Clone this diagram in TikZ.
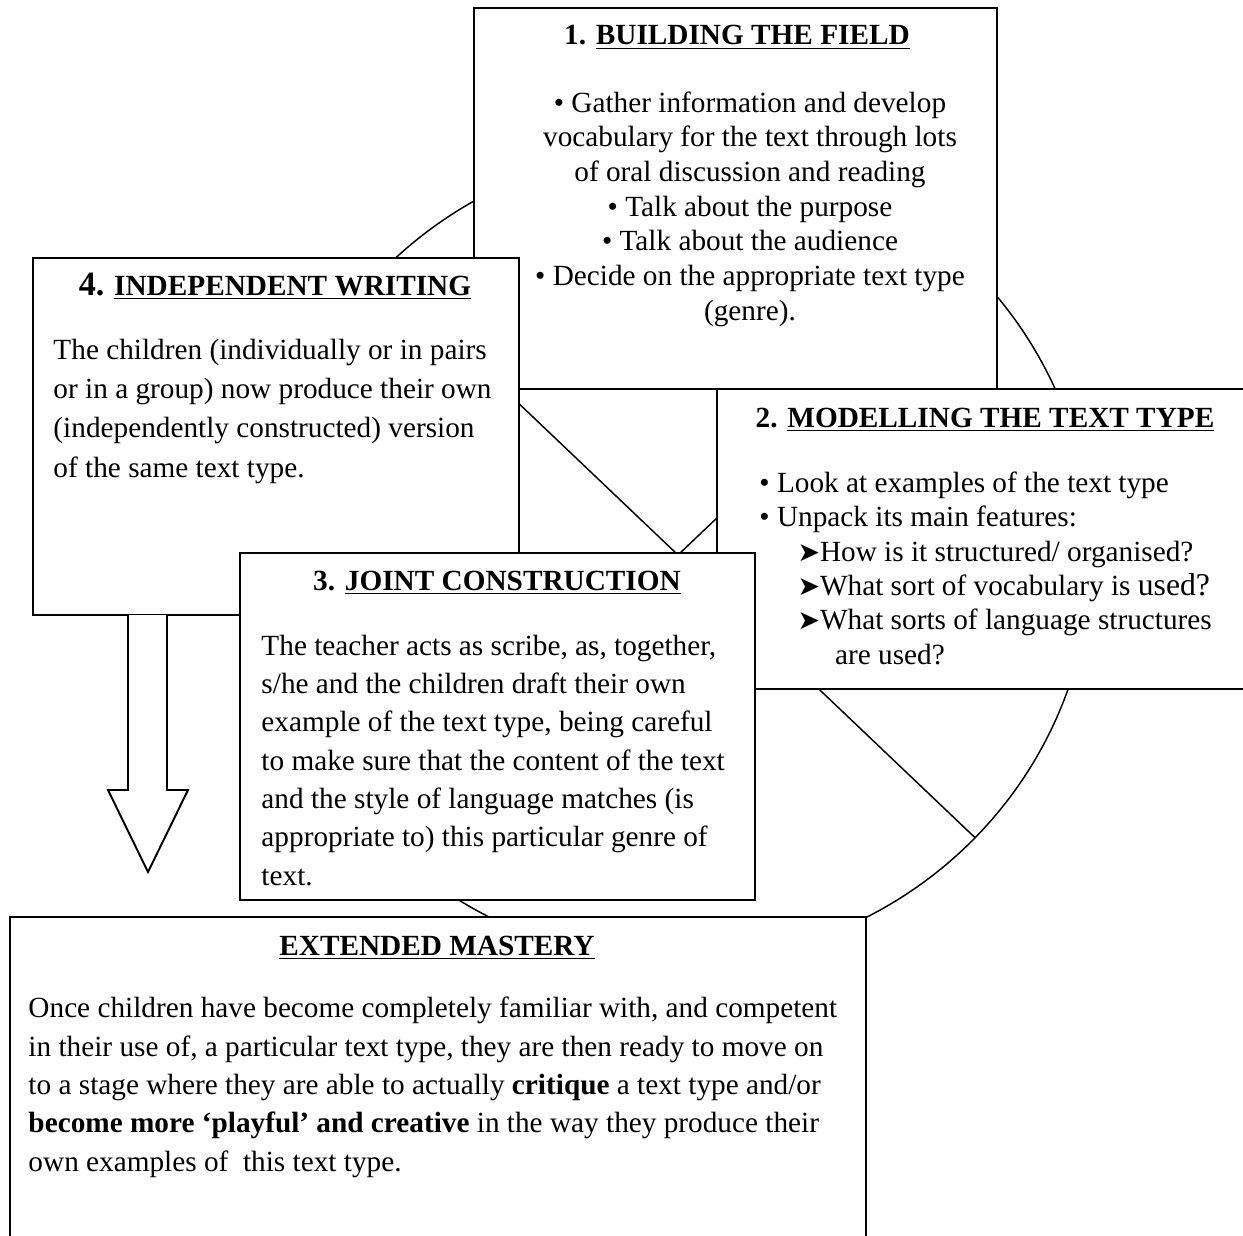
\documentclass[tikz,border=0pt]{standalone}
\usepackage{fontspec}
\setmainfont{Liberation Serif}
\newfontfamily\dingfont{DejaVu Sans}
\usepackage{tikz}
\usetikzlibrary{calc}
\newcommand{\pxu}{0.41pt}
\newcommand{\tip}{{\dingfont\fontsize{11}{11}\selectfont ➤}}

\begin{document}
\begin{tikzpicture}[x=\pxu, y=-\pxu,
  stage/.style={draw, line width=0.9pt, fill=white, inner sep=0pt, outer sep=0pt, anchor=north west},
  head/.style={anchor=base, inner sep=0pt, font=\fontsize{12}{14}\selectfont\bfseries},
  body/.style={anchor=base west, inner sep=0pt, align=left},
  ring/.style={line width=0.6pt}]
  \useasboundingbox (0,0) rectangle (1243,1236);
  \clip (0,0) rectangle (1243,1236);
  % the cycle behind the boxes
  \coordinate (c) at (678,555);
  \draw[ring] (c) ellipse [x radius=413, y radius=407];
  \draw[ring] ($(c)+(224:413 and 407)$) -- ($(c)+(44:413 and 407)$);
  \draw[ring] ($(c)+(136:413 and 407)$) -- ($(c)+(-44:413 and 407)$);

  % 1 (text nodes sit on the baseline of their last line)
  \node[stage, minimum width=523*\pxu, minimum height=381*\pxu] (field) at (474,8) {};
  \node[head] (fieldhead) at (737,45) {1. \underline{BUILDING THE FIELD}};
  \node[body, anchor=base, align=center, font=\fontsize{12}{14.2}\selectfont] (fieldtext) at (750,320)
    {\textbullet{} Gather information and develop\\
     vocabulary for the text through lots\\
     of oral discussion and reading\\
     \textbullet{} Talk about the purpose\\
     \textbullet{} Talk about the audience\\
     \textbullet{} Decide on the appropriate text type\\
     (genre).};

  % 2
  \node[stage, minimum width=560*\pxu, minimum height=300*\pxu] (model) at (717,389) {};
  \node[head] (modelhead) at (985,427) {2. \underline{MODELLING THE TEXT TYPE}};
  \node[body, font=\fontsize{12}{14.07}\selectfont] (modeltext) at (759,664)
    {\textbullet{} Look at examples of the text type\\
     \textbullet{} Unpack its main features:\\
     \hspace*{15.6pt}\tip How is it structured/ organised?\\
     \hspace*{15.6pt}\tip What sort of vocabulary is {\fontsize{13}{14}\selectfont used?}\\
     \hspace*{15.6pt}\tip What sorts of language structures\\
     \hspace*{31pt}are used?};

  % 4
  \node[stage, minimum width=486*\pxu, minimum height=357*\pxu] (indep) at (33,258) {};
  \node[head] (indephead) at (275,295) {{\fontsize{14}{14}\selectfont 4.} \underline{INDEPENDENT WRITING}};
  \node[body, font=\fontsize{12}{16}\selectfont] (indeptext) at (53,477)
    {The children (individually or in pairs\\
     or in a group) now produce their own\\
     (independently constructed) version\\
     of the same text type.};

  % 3
  \node[stage, minimum width=515*\pxu, minimum height=347*\pxu] (joint) at (240,553) {};
  \node[head] (jointhead) at (497,590) {3. \underline{JOINT CONSTRUCTION}};
  \node[body, font=\fontsize{12}{15.7}\selectfont] (jointtext) at (261,885)
    {The teacher acts as scribe, as, together,\\
     s/he and the children draft their own\\
     example of the text type, being careful\\
     to make sure that the content of the text\\
     and the style of language matches (is\\
     appropriate to) this particular genre of\\
     text.};

  % mastery
  \node[stage, minimum width=856*\pxu, minimum height=340*\pxu] (mastery) at (10,917) {};
  \node[head] (masteryhead) at (437,955) {\underline{EXTENDED MASTERY}};
  \node[body, font=\fontsize{12}{15.7}\selectfont] (masterytext) at (28,1171)
    {Once children have become completely familiar with, and competent\\
     in their use of, a particular text type, they are then ready to move on\\
     to a stage where they are able to actually \textbf{critique} a text type and/or\\
     \textbf{become more ‘playful’ and creative} in the way they produce their\\
     own examples of\ \ this text type.};

  % hollow arrow down to mastery
  \coordinate (arrowtip) at (148,872);
  \draw[line width=0.8pt, fill=white] (indep.south west) ++(95,0) -- ++(0,175) -- ++(-20,0)
    -- (arrowtip) -- ++(40,-82) -- ++(-21,0) -- ++(0,-175);
\end{tikzpicture}
\end{document}
